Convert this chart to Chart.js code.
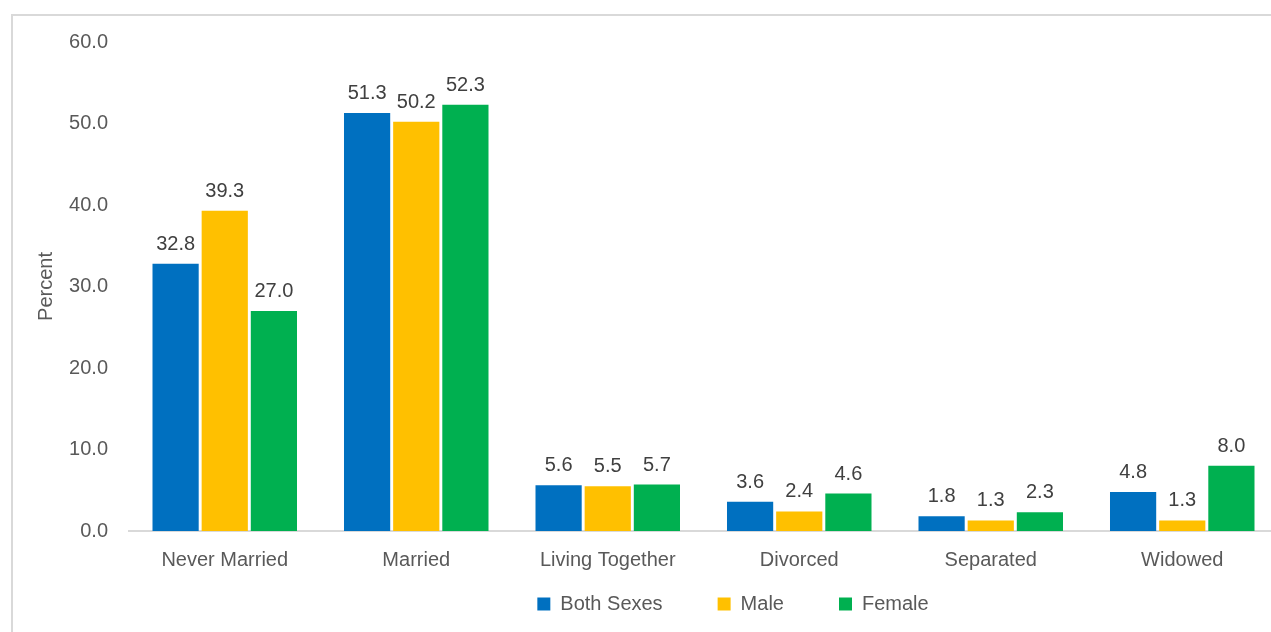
<!DOCTYPE html>
<html>
<head>
<meta charset="utf-8">
<title>Marital status by sex</title>
<script src="https://cdn.jsdelivr.net/npm/chart.js@4.4.1/dist/chart.umd.min.js"></script>
<style>
  html, body { margin: 0; padding: 0; background: #fff; overflow: hidden; }
  #frame { position: absolute; left: 11px; top: 14px; width: 1400px; height: 700px;
           border-left: 2px solid #d9d9d9; border-top: 2px solid #d9d9d9; }
  #chart { position: absolute; left: 0; top: 0; }
</style>
</head>
<body>
<div id="frame"></div>
<canvas id="chart" width="1300" height="632"></canvas>
<script>
// ─── DATA ───
const categories = ['Never Married', 'Married', 'Living Together', 'Divorced', 'Separated', 'Widowed'];
const bothSexes = [32.8, 51.3, 5.6, 3.6, 1.8, 4.8];
const male = [39.3, 50.2, 5.5, 2.4, 1.3, 1.3];
const female = [27.0, 52.3, 5.7, 4.6, 2.3, 8.0];
const yTicks = [0, 10, 20, 30, 40, 50, 60];

// ─── DEFAULTS ───
const FONT = '"Liberation Sans", Arial, sans-serif';
Chart.defaults.font.family = FONT;
Chart.defaults.font.size = 20;
Chart.defaults.color = '#595959';

// ─── VALUE LABELS ABOVE BARS ───
const valueLabels = {
    id: 'valueLabels',
    afterDatasetsDraw(chart) {
        const ctx = chart.ctx;
        ctx.save();
        ctx.font = '20px ' + FONT;
        ctx.fillStyle = '#404040';
        ctx.textAlign = 'center';
        ctx.textBaseline = 'alphabetic';
        chart.data.datasets.forEach((ds, i) => {
            chart.getDatasetMeta(i).data.forEach((bar, j) => {
                ctx.fillText(ds.data[j].toFixed(1), bar.x, bar.y - 14);
            });
        });
        ctx.restore();
    }
};

// ─── LEGEND POSITION (right of centre, below the axis labels) ───
const legendPlacement = {
    id: 'legendPlacement',
    afterLayout(chart) {
        const lg = chart.legend;
        lg.left += 84;
        lg.right += 84;
        lg.top = 539;
        lg.bottom = 632;
        lg.height = lg.bottom - lg.top;
    }
};

// ─── CREATE THE CHART ───
const ctx = document.getElementById('chart').getContext('2d');
new Chart(ctx, {
    type: 'bar',
    data: {
        labels: categories,
        datasets: [
            { label: 'Both Sexes', data: bothSexes, backgroundColor: '#0070c0' },
            { label: 'Male', data: male, backgroundColor: '#ffc000' },
            { label: 'Female', data: female, backgroundColor: '#00b050' }
        ]
    },
    options: {
        responsive: false,
        animation: false,
        categoryPercentage: 0.77,
        barPercentage: 0.94,
        layout: { padding: { top: 42, right: 22, bottom: 0, left: 20 } },
        scales: {
            x: {
                grid: { display: false, drawTicks: false },
                border: { display: true, color: '#d9d9d9', width: 2 },
                ticks: { padding: 17, color: '#595959' },
                afterFit: s => { s.height = 91; }
            },
            y: {
                min: 0,
                max: 60,
                grid: { display: false, drawTicks: false },
                border: { display: false },
                ticks: { padding: 21, color: '#595959', callback: v => v.toFixed(1) },
                afterBuildTicks: s => { s.ticks = yTicks.map(v => ({ value: v })); },
                title: { display: true, text: 'Percent', color: '#595959', padding: { top: 14, bottom: 0 } },
                afterFit: s => { s.width = 109; }
            }
        },
        plugins: {
            legend: {
                position: 'bottom',
                maxHeight: 10,
                labels: { boxWidth: 13, boxHeight: 13, padding: 55, color: '#595959' }
            },
            tooltip: { enabled: false }
        }
    },
    plugins: [valueLabels, legendPlacement]
});
</script>
</body>
</html>
